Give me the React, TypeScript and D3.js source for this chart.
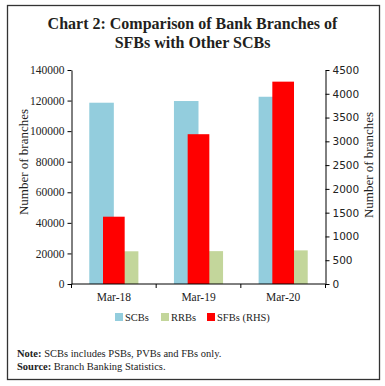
import React, { useEffect, useRef } from "react";
import * as d3 from "d3";

const categories = ["Mar-18", "Mar-19", "Mar-20"];
const scbs = [118600, 119700, 122500];
const rrbs = [21400, 21500, 22000];
const sfbs = [1415, 3150, 4255];
const leftTicks = [0, 20000, 40000, 60000, 80000, 100000, 120000, 140000];
const rightTicks = [0, 500, 1000, 1500, 2000, 2500, 3000, 3500, 4000, 4500];
const seriesNames = ["SCBs", "RRBs", "SFBs (RHS)"];
const seriesColors = ["#93CDDD", "#C3D69B", "#FF0000"];

const serif = "'Liberation Serif', 'Times New Roman', serif";
const sans = "'DejaVu Sans', Verdana, sans-serif";

export default function App() {
  const ref = useRef<SVGSVGElement>(null);

  useEffect(() => {
    if (!ref.current) return;
    const svg = d3.select(ref.current);
    svg.selectAll("*").remove();

    const plot = { left: 71.5, right: 325.5, top: 70, bottom: 284 };

    // frame
    svg
      .append("rect")
      .attr("x", 7.5)
      .attr("y", 5.5)
      .attr("width", 372)
      .attr("height", 374)
      .attr("fill", "#fff")
      .attr("stroke", "#333")
      .attr("stroke-width", 1.3);

    const title = svg
      .append("text")
      .attr("text-anchor", "middle")
      .style("font", `bold 16px ${serif}`)
      .attr("fill", "#231f20");
    title.append("tspan").attr("x", 192.5).attr("y", 29).text("Chart 2: Comparison of Bank Branches of");
    title.append("tspan").attr("x", 192.5).attr("y", 48).text("SFBs with Other SCBs");

    const x = d3
      .scaleBand()
      .domain(categories)
      .range([plot.left, plot.right])
      .paddingInner(0.42)
      .paddingOuter(0.21);
    const inner = d3.scaleBand().domain(["SCBs", "RRBs"]).range([0, x.bandwidth()]);
    const yL = d3.scaleLinear().domain([0, 140000]).range([plot.bottom, plot.top]);
    const yR = d3.scaleLinear().domain([0, 4500]).range([plot.bottom, plot.top]);

    const bars = svg.append("g");
    categories.forEach((c, i) => {
      bars
        .append("rect")
        .attr("x", x(c)! + inner("SCBs")!)
        .attr("y", yL(scbs[i]))
        .attr("width", inner.bandwidth())
        .attr("height", yL(0) - yL(scbs[i]))
        .attr("fill", seriesColors[0]);
      bars
        .append("rect")
        .attr("x", x(c)! + inner("RRBs")!)
        .attr("y", yL(rrbs[i]))
        .attr("width", inner.bandwidth())
        .attr("height", yL(0) - yL(rrbs[i]))
        .attr("fill", seriesColors[1]);
    });
    const sfbW = x.step() * 0.256;
    categories.forEach((c, i) => {
      bars
        .append("rect")
        .attr("x", x(c)! + x.bandwidth() / 2 - sfbW / 2)
        .attr("y", yR(sfbs[i]))
        .attr("width", sfbW)
        .attr("height", yR(0) - yR(sfbs[i]))
        .attr("fill", seriesColors[2]);
    });

    // left axis
    const gL = svg
      .append("g")
      .attr("transform", `translate(${plot.left},0)`)
      .call(
        d3.axisLeft(yL).tickValues(leftTicks).tickSize(4).tickSizeOuter(0).tickPadding(3).tickFormat(d3.format("d"))
      );
    gL.selectAll("text").style("font", `11.5px ${serif}`).attr("fill", "#222");
    gL.selectAll("line,path").attr("stroke", "#000");

    // right axis
    const gR = svg
      .append("g")
      .attr("transform", `translate(${plot.right},0)`)
      .call(
        d3.axisRight(yR).tickValues(rightTicks).tickSize(4).tickSizeOuter(0).tickPadding(3).tickFormat(d3.format("d"))
      );
    gR.selectAll("text").style("font", `10.5px ${sans}`).attr("fill", "#222");
    gR.selectAll("line,path").attr("stroke", "#000");

    // x axis
    const gX = svg
      .append("g")
      .attr("transform", `translate(0,${plot.bottom})`)
      .call(d3.axisBottom(x).tickSize(0).tickPadding(9));
    gX.select(".domain").remove();
    gX.selectAll("text").style("font", `11.5px ${serif}`).attr("fill", "#222");
    gX.append("line")
      .attr("x1", plot.left)
      .attr("x2", plot.right)
      .attr("stroke", "#000");
    d3.range(categories.length + 1).forEach((i) => {
      gX.append("line")
        .attr("x1", plot.left + i * x.step())
        .attr("x2", plot.left + i * x.step())
        .attr("y1", 0)
        .attr("y2", 4)
        .attr("stroke", "#000");
    });

    // axis titles
    [
      { cx: 23, cy: 162 },
      { cx: 368, cy: 165 },
    ].forEach((p) => {
      svg
        .append("text")
        .attr("transform", `translate(${p.cx},${p.cy}) rotate(-90)`)
        .attr("text-anchor", "middle")
        .attr("dominant-baseline", "central")
        .style("font", `13px ${serif}`)
        .attr("fill", "#222")
        .text("Number of branches");
    });

    // legend
    const legendX = [115, 161, 207];
    seriesNames.forEach((name, i) => {
      svg
        .append("rect")
        .attr("x", legendX[i])
        .attr("y", 313)
        .attr("width", 8)
        .attr("height", 8)
        .attr("fill", seriesColors[i]);
      svg
        .append("text")
        .attr("x", legendX[i] + 10)
        .attr("y", 320.5)
        .style("font", `10.5px ${serif}`)
        .attr("fill", "#222")
        .text(name);
    });

    // notes
    const note = svg.append("text").style("font", `10.5px ${serif}`).attr("fill", "#222");
    note.append("tspan").attr("x", 17).attr("y", 357).style("font-weight", "bold").text("Note: ");
    note.append("tspan").text("SCBs includes PSBs, PVBs and FBs only.");
    const src = svg.append("text").style("font", `10.5px ${serif}`).attr("fill", "#222");
    src.append("tspan").attr("x", 17).attr("y", 369.5).style("font-weight", "bold").text("Source: ");
    src.append("tspan").text("Branch Banking Statistics.");
  }, []);

  return (
    <svg
      ref={ref}
      width={385}
      height={386}
      style={{ position: "absolute", left: 0, top: 0, background: "#fff" }}
    />
  );
}
